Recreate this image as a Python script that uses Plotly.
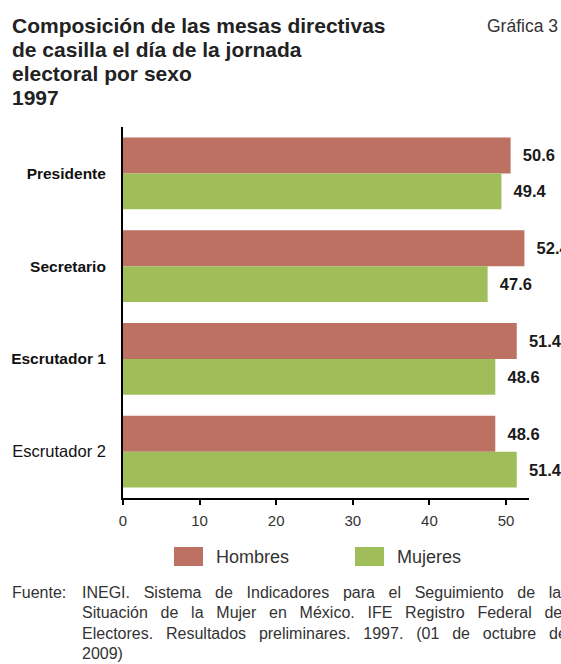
import plotly.graph_objects as go

cargos = ["Presidente", "Secretario", "Escrutador 1", "Escrutador 2"]
etiquetas = ["<b>Presidente</b>", "<b>Secretario</b>", "<b>Escrutador 1</b>",
             "<span style='font-size:16.5px'>Escrutador 2</span>"]
hombres = [50.6, 52.4, 51.4, 48.6]
mujeres = [49.4, 47.6, 48.6, 51.4]
ticks_x = [0, 10, 20, 30, 40, 50]

ROJO = "#BC7163"
VERDE = "#9FBE5A"
FUENTE = "Liberation Sans, Arial, sans-serif"

# área de trazado en píxeles de la página
L, T, W, H = 123, 127, 406, 371


def px(x):
    return (x - L) / W


def py(y):
    return (T + H - y) / H


fig = go.Figure()

for nombre, valores, color in [("Hombres", hombres, ROJO), ("Mujeres", mujeres, VERDE)]:
    fig.add_trace(go.Bar(
        y=cargos, x=valores, orientation="h", name=nombre,
        marker=dict(color=color, line=dict(width=0)),
        text=[f"{v:.1f}" for v in valores], textposition="outside",
        texttemplate="  <b>%{text}</b>",
        textfont=dict(family=FUENTE, size=16.5, color="#1a1a1a"),
        cliponaxis=False,
    ))

fig.update_layout(
    width=561, height=664,
    margin=dict(l=L, r=561 - L - W, t=T, b=664 - T - H, autoexpand=False),
    barmode="group", bargap=0.226, bargroupgap=0,
    plot_bgcolor="white", paper_bgcolor="white",
    showlegend=False,
    font=dict(family=FUENTE, color="#222"),
)

fig.update_xaxes(
    range=[0, 53], tickvals=ticks_x, ticktext=[str(t) for t in ticks_x],
    showgrid=False, zeroline=False, automargin=False,
    showline=True, linecolor="black", linewidth=2,
    ticks="outside", ticklen=5, tickwidth=1.5, tickcolor="black",
    ticklabelstandoff=3,
    tickfont=dict(family=FUENTE, size=15, color="#333"),
)
fig.update_yaxes(
    autorange="reversed", tickvals=cargos, ticktext=etiquetas,
    showgrid=False, zeroline=False, automargin=False,
    showline=True, linecolor="black", linewidth=2,
    ticks="", ticklabelstandoff=12,
    tickfont=dict(family=FUENTE, size=15.5, color="#111"),
)

# Título (una línea por anotación para controlar el interlineado)
titulo = ["Composición de las mesas directivas", "de casilla el día de la jornada",
          "electoral por sexo", "1997"]
for i, linea in enumerate(titulo):
    fig.add_annotation(
        text=f"<b>{linea}</b>", xref="paper", yref="paper",
        x=px(10), y=py(25 + 24.3 * i),
        xanchor="left", yanchor="middle", showarrow=False,
        font=dict(family=FUENTE, size=21, color="#222"),
    )
fig.add_annotation(
    text="Gráfica 3", xref="paper", yref="paper", x=px(560), y=py(26),
    xanchor="right", yanchor="middle", showarrow=False,
    font=dict(family=FUENTE, size=17.5, color="#333"),
)

# Leyenda manual
for nombre, color, x0 in [("Hombres", ROJO, 174), ("Mujeres", VERDE, 355)]:
    fig.add_shape(
        type="rect", xref="paper", yref="paper",
        x0=px(x0), x1=px(x0 + 29), y0=py(566), y1=py(547),
        fillcolor=color, line=dict(width=0),
    )
    fig.add_annotation(
        text=nombre, xref="paper", yref="paper",
        x=px(x0 + 40), y=py(557),
        xanchor="left", yanchor="middle", showarrow=False,
        font=dict(family=FUENTE, size=18, color="#333"),
    )

# Fuente (texto justificado con espaciado entre palabras)
fuente_lineas = [
    "INEGI. Sistema de Indicadores para el Seguimiento de la",
    "Situación de la Mujer en México. IFE Registro Federal de",
    "Electores. Resultados preliminares. 1997. (01 de octubre de",
    "2009)",
]
espaciado = [9.2, 8.3, 8.4, 0]
fig.add_annotation(
    text="Fuente:", xref="paper", yref="paper", x=px(10), y=py(592),
    xanchor="left", yanchor="middle", showarrow=False,
    font=dict(family=FUENTE, size=16, color="#333"),
)
for i, linea in enumerate(fuente_lineas):
    fig.add_annotation(
        text=f"<span style='word-spacing:{espaciado[i]}px'>{linea}</span>",
        xref="paper", yref="paper", x=px(80), y=py(592 + 20.5 * i),
        xanchor="left", yanchor="middle", align="left", width=520,
        showarrow=False,
        font=dict(family=FUENTE, size=16, color="#333"),
    )

# sin margen del <body>, para que la figura ocupe toda la ventana
fig.write_html("out.html", config={"displayModeBar": False},
               post_script="document.body.style.margin='0';")
